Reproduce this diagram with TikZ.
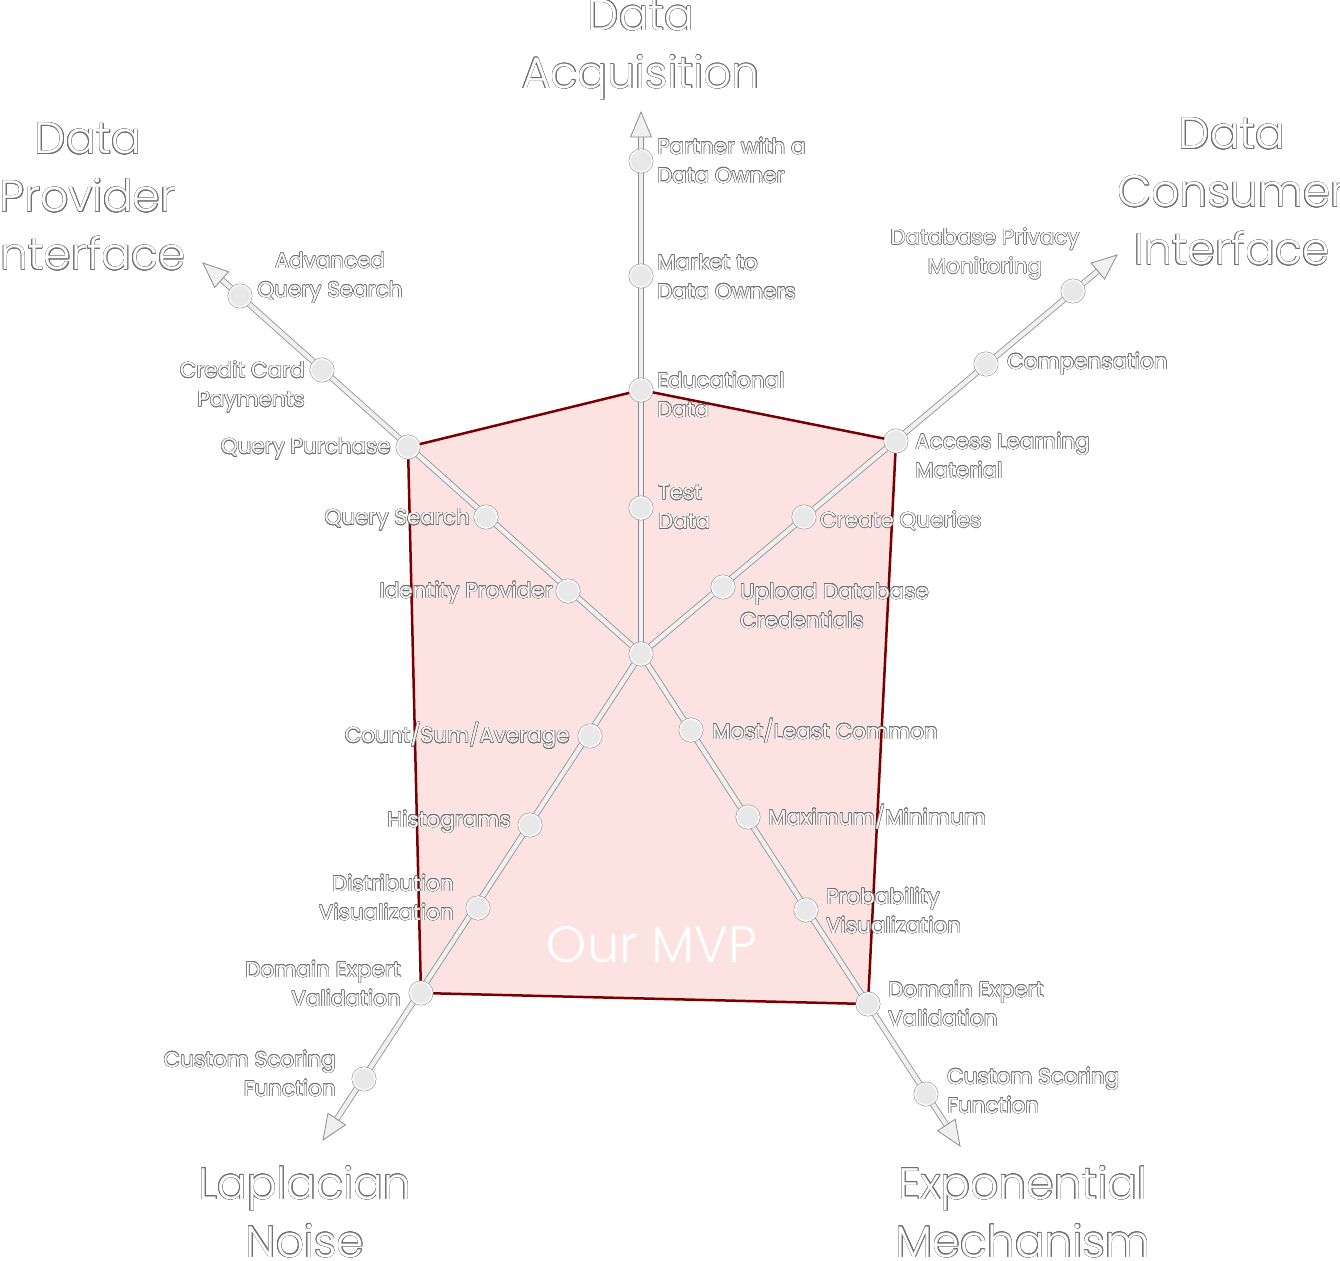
\documentclass[tikz,border=0pt]{standalone}
\usepackage{fontspec}
\setmainfont{Poppins}
\newfontfamily\titlefont{Poppins Light}
\usepackage[copies]{contour}
\usetikzlibrary{calc}
\definecolor{olc}{HTML}{707070}
\definecolor{mvpfill}{HTML}{FDE2E2}
\definecolor{mvpline}{HTML}{780000}
\definecolor{axfill}{HTML}{F0F0F0}
\definecolor{axedge}{HTML}{8C8C8C}
\definecolor{ndfill}{HTML}{E8E8E8}
\contourlength{0.5pt}
\contournumber{16}
\newcommand{\ol}[1]{\contour{olc}{#1}}
\pgfdeclarelayer{bgl}
\pgfdeclarelayer{midl}
\pgfsetlayers{bgl,midl,main}
\begin{document}
\begin{tikzpicture}[x=1pt,y=-1pt,
  lbl/.style={text=white,font=\fontsize{21.5}{29}\selectfont,inner sep=0pt},
  ttl/.style={text=white,font=\titlefont\fontsize{44}{58}\selectfont,align=center,inner sep=0pt},
  nd/.style={circle,minimum size=22pt,inner sep=0pt,fill=ndfill,draw=white!60!ndfill,line width=1.8pt,preaction={draw=axedge,line width=2.8pt}},
  axo/.style={draw=axedge,line width=6pt},
  axi/.style={draw=axfill,line width=4.4pt},
  head/.style={fill=axfill,draw=axedge,line width=0.8pt,line join=miter}]
\useasboundingbox (0,0) rectangle (1340,1260);

% centre and arrow tips
\node[nd] (c) at (641,654) {};
\coordinate (tU) at (641,112);
\coordinate (tUR) at (1117,255);
\coordinate (tUL) at (203,263);
\coordinate (tLL) at (323,1140);
\coordinate (tLR) at (960,1146);

% axis nodes
\node[nd] (u1) at (641,508) {};
\node[nd] (u2) at (641,390) {};
\node[nd] (u3) at (641,276) {};
\node[nd] (u4) at (641,161) {};
\node[nd] (r1) at (723,587) {};
\node[nd] (r2) at (804,517) {};
\node[nd] (r3) at (896,441) {};
\node[nd] (r4) at (986,364) {};
\node[nd] (r5) at (1073,291) {};
\node[nd] (l1) at (568,591) {};
\node[nd] (l2) at (486,517) {};
\node[nd] (l3) at (408,447) {};
\node[nd] (l4) at (322,370) {};
\node[nd] (l5) at (240,296) {};
\node[nd] (ll1) at (590,736) {};
\node[nd] (ll2) at (530,825) {};
\node[nd] (ll3) at (478,908) {};
\node[nd] (ll4) at (421,993) {};
\node[nd] (ll5) at (364,1079) {};
\node[nd] (lr1) at (691,730) {};
\node[nd] (lr2) at (748,817) {};
\node[nd] (lr3) at (806,910) {};
\node[nd] (lr4) at (868,1004) {};
\node[nd] (lr5) at (926,1094) {};

% MVP polygon
\begin{pgfonlayer}{bgl}
\draw[fill=mvpfill,draw=mvpline,line width=2.5pt,line join=round]
  (u2.center) -- (r3.center) -- (lr4.center) -- (ll4.center) -- (l3.center) -- cycle;
\end{pgfonlayer}

% axes
\begin{pgfonlayer}{midl}
\foreach \t in {U,UR,UL,LL,LR}{
  \coordinate (b\t) at ($(t\t)!25pt!(c)$);
  \draw[axo] (c.center) -- (b\t);
  \draw[axi] (c.center) -- (b\t);
  \draw[head] (t\t) -- ($(b\t)!10.5pt!90:(t\t)$) -- ($(b\t)!10.5pt!-90:(t\t)$) -- cycle;
}
\end{pgfonlayer}

% labels: up axis
\node[lbl,anchor=west,align=left] (a4) at (657,161) {\ol{Partner with a}\\\ol{Data Owner}};
\node[lbl,anchor=west,align=left] (a3) at (657,277) {\ol{Market to}\\\ol{Data Owners}};
\node[lbl,anchor=west,align=left] (a2) at (657,395) {\ol{Educational}\\\ol{Data}};
\node[lbl,anchor=west,align=left] (a1) at (658,507) {\ol{Test}\\\ol{Data}};
% upper right
\node[lbl,anchor=west,align=left] (b1) at (740,606) {\ol{Upload Database}\\\ol{Credentials}};
\node[lbl,anchor=west] (b2) at (820,521) {\ol{Create Queries}};
\node[lbl,anchor=west,align=left] (b3) at (915,456) {\ol{Access Learning}\\\ol{Material}};
\node[lbl,anchor=west] (b4) at (1007,364) {\ol{Compensation}};
\node[lbl,align=center] (b5) at (985,254) {\ol{Database Privacy}\\\ol{Monitoring}};
% upper left
\node[lbl,anchor=east] (d1) at (553,593) {\ol{Identity Provider}};
\node[lbl,anchor=east] (d2) at (470,520) {\ol{Query Search}};
\node[lbl,anchor=east] (d3) at (391,449) {\ol{Query Purchase}};
\node[lbl,anchor=east,align=right] (d4) at (305,387) {\ol{Credit Card}\\\ol{Payments}};
\node[lbl,align=center] (d5) at (330,278) {\ol{Advanced}\\\ol{Query Search}};
% lower left
\node[lbl,anchor=east] (e1) at (570,736) {\ol{Count/Sum/Average}};
\node[lbl,anchor=east] (e2) at (511,822) {\ol{Histograms}};
\node[lbl,anchor=east,align=right] (e3) at (454,898) {\ol{Distribution}\\\ol{Visualization}};
\node[lbl,anchor=east,align=right] (e4) at (401,984) {\ol{Domain Expert}\\\ol{Validation}};
\node[lbl,anchor=east,align=right] (e5) at (336,1074) {\ol{Custom Scoring}\\\ol{Function}};
% lower right
\node[lbl,anchor=west] (f1) at (712,731) {\ol{Most/Least Common}};
\node[lbl,anchor=west] (f2) at (768,817) {\ol{Maximum/Minimum}};
\node[lbl,anchor=west,align=left] (f3) at (826,911) {\ol{Probability}\\\ol{Visualization}};
\node[lbl,anchor=west,align=left] (f4) at (888,1004) {\ol{Domain Expert}\\\ol{Validation}};
\node[lbl,anchor=west,align=left] (f5) at (947,1091) {\ol{Custom Scoring}\\\ol{Function}};

% titles
\node[ttl] (T1) at (641,50) {\ol{Data}\\\ol{Acquisition}};
\node[ttl] (T2) at (88,197) {\ol{Data}\\\ol{Provider}\\\ol{Interface}};
\node[ttl] (T3) at (1232,192) {\ol{Data}\\\ol{Consumer}\\\ol{Interface}};
\node[ttl] (T4) at (305,1212) {\ol{Laplacian}\\\ol{Noise}};
\node[ttl] (T5) at (1023,1212) {\ol{Exponential}\\\ol{Mechanism}};

\node[text=white,font=\titlefont\fontsize{51}{60}\selectfont,inner sep=0pt] (mvp) at (652,945) {Our MVP};
\end{tikzpicture}
\end{document}
